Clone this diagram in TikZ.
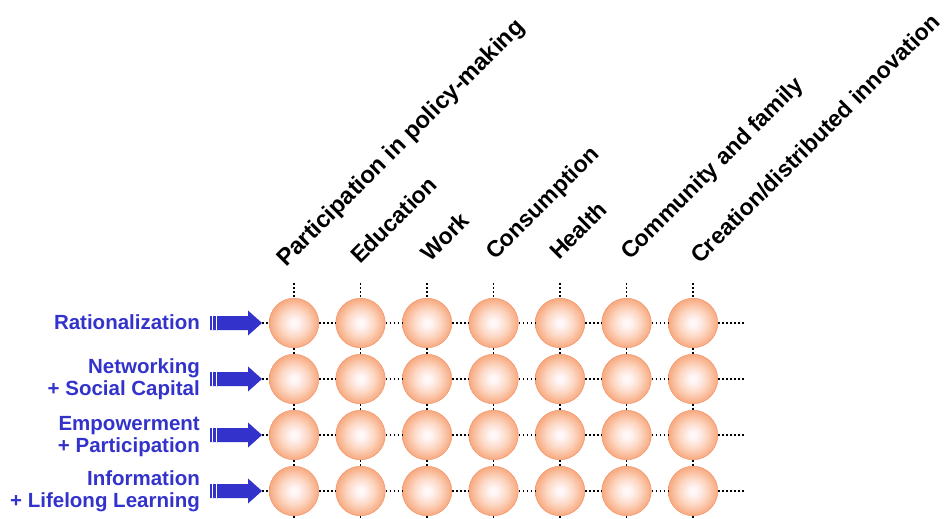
\documentclass[tikz,border=0pt]{standalone}
\usepackage{fontspec}
\setmainfont{Liberation Sans}
\definecolor{lblue}{RGB}{51,51,204}
\definecolor{balledge}{RGB}{242,138,96}
\pgfdeclareradialshading{ball}{\pgfpoint{0bp}{0bp}}{rgb(0bp)=(1,0.98,0.99); rgb(4bp)=(1,0.96,0.96); rgb(14bp)=(0.99,0.84,0.76); rgb(24bp)=(0.97,0.68,0.52); rgb(34bp)=(0.96,0.58,0.40); rgb(50bp)=(0.95,0.54,0.36)}
\tikzset{
  ballnode/.style={circle, minimum size=49.6pt, inner sep=0pt, shading=ball, draw=balledge, line width=0.4pt},
  rowlabel/.style={font=\fontsize{20.5}{22}\selectfont\bfseries, text=lblue, align=right, anchor=base east, inner sep=0pt},
  collabel/.style={font=\fontsize{23}{26}\selectfont\bfseries, text=black, rotate=45, anchor=base west, inner sep=0pt},
  gridline/.style={line width=1.7pt, dash pattern=on 1.7pt off 2.3pt, black},
  arrowfill/.style={fill=lblue, draw=none},
  stripe/.style={draw=white, line width=0.8pt}
}
\begin{document}
\begin{tikzpicture}[x=1pt, y=-1pt]
\useasboundingbox (0,0) rectangle (946,519);
% column labels
\node[collabel, font=\fontsize{23.8}{26}\selectfont\bfseries] (h1) at (286,268) {Participation in policy-making};
\node[collabel] (h2) at (360,265) {Education};
\node[collabel] (h3) at (430,263) {Work};
\node[collabel] (h4) at (495,261) {Consumption};
\node[collabel] (h5) at (559,261) {Health};
\node[collabel] (h6) at (630,261) {Community and family};
\node[collabel] (h7) at (700,265) {Creation/distributed innovation};
% row labels
\node[rowlabel] (r1) at (200,329) {Rationalization};
\node[rowlabel] (r2) at (200,395) {Networking\\+ Social Capital};
\node[rowlabel] (r3) at (200,452) {Empowerment\\+ Participation};
\node[rowlabel] (r4) at (200,507) {Information\\+ Lifelong Learning};
% coordinates
\foreach \j/\x in {1/294,2/360.5,3/427,4/493.5,5/560,6/626.5,7/693} {
  \coordinate (top\j) at (\x,283);
  \coordinate (bot\j) at (\x,521);
}
\foreach \i/\y in {1/323,2/379,3/435,4/491} {
  \coordinate (tip\i) at (262,\y);
  \coordinate (end\i) at (744,\y);
  % arrow
  \fill[arrowfill] (210,\y-7) -- (248,\y-7) -- (248,\y-12.5) -- (tip\i) -- (248,\y+12.5) -- (248,\y+7) -- (210,\y+7) -- cycle;
  \draw[stripe] (212.8,\y-7) -- (212.8,\y+7);
  \draw[stripe] (216.6,\y-7) -- (216.6,\y+7);
  \foreach \j/\x in {1/294,2/360.5,3/427,4/493.5,5/560,6/626.5,7/693} {
    \node[ballnode] (c\i\j) at (\x,\y) {};
  }
}
% grid lines
\foreach \i in {1,...,4} {
  \draw[gridline] (tip\i) -- (c\i1.west);
  \foreach \j [evaluate=\j as \k using int(\j+1)] in {1,...,6} {
    \draw[gridline] (c\i\j.east) -- (c\i\k.west);
  }
  \draw[gridline] (c\i7.east) -- (end\i);
}
\foreach \j in {1,...,7} {
  \draw[gridline] (top\j) -- (c1\j.north);
  \draw[gridline] (c1\j.south) -- (c2\j.north);
  \draw[gridline] (c2\j.south) -- (c3\j.north);
  \draw[gridline] (c3\j.south) -- (c4\j.north);
  \draw[gridline] (c4\j.south) -- (bot\j);
}
\end{tikzpicture}
\end{document}
